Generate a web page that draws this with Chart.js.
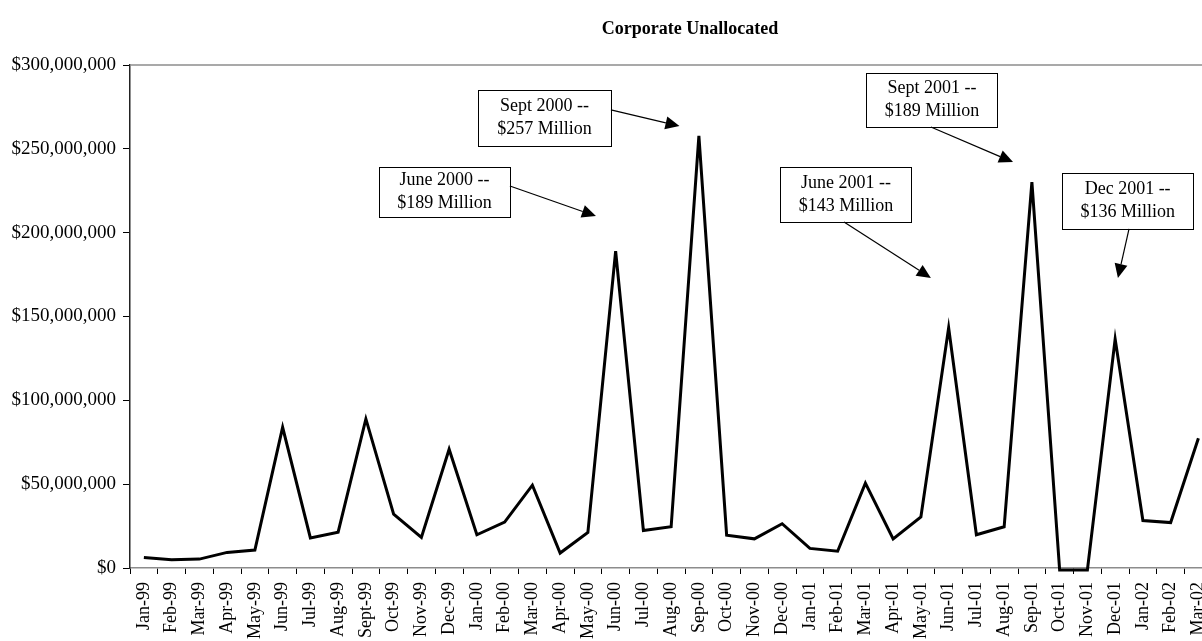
<!DOCTYPE html>
<html lang="en">
<head>
    <meta charset="UTF-8">
    <title>Corporate Unallocated</title>
    <script src="https://cdn.jsdelivr.net/npm/chart.js"></script>
    <style>
        body { margin: 0; background: #fff; }
        #wrap { width: 1202px; height: 641px; overflow: hidden; }
    </style>
</head>
<body>
    <div id="wrap">
        <canvas id="unallocChart" width="1228" height="641"></canvas>
    </div>
    <script>
        // months shown on the axis (labels exactly as in the original)
        const months = [
            'Jan-99', 'Feb-99', 'Mar-99', 'Apr-99', 'May-99', 'Jun-99', 'Jul-99', 'Aug-99', 'Sept-99', 'Oct-99', 'Nov-99', 'Dec-99',
            'Jan-00', 'Feb-00', 'Mar-00', 'Apr-00', 'May-00', 'Jun-00', 'Jul-00', 'Aug-00', 'Sep-00', 'Oct-00', 'Nov-00', 'Dec-00',
            'Jan-01', 'Feb-01', 'Mar-01', 'Apr-01', 'May-01', 'Jun-01', 'Jul-01', 'Aug-01', 'Sep-01', 'Oct-01', 'Nov-01', 'Dec-01',
            'Jan-02', 'Feb-02', 'Mar-02'
        ];

        // values in millions of dollars
        const unallocatedMillions = [
            6.3, 4.9, 5.3, 9.3, 10.7, 83.9, 17.9, 21.4, 88.9, 32.1, 18.2, 70.8,
            19.8, 27.4, 49.4, 8.9, 21.2, 189.0, 22.4, 24.6, 257.7, 19.6, 17.4, 26.4,
            11.7, 10.0, 50.6, 17.3, 30.4, 143.2, 19.8, 24.6, 230.1, -1.2, -1.2, 136.5,
            28.3, 27.1, 77.4
        ];

        const yMin = 0;
        const yMax = 300000000;
        const yStep = 50000000;

        // callout boxes: text lines, box centre and arrow ends in data units (category index, $M)
        const callouts = [
            { lines: ['June 2000 --', '$189 Million'], at: [10.83, 224.3], w: 131, h: 50, from: [13.19, 227.8], to: [16.29, 209.9] },
            { lines: ['Sept 2000 --', '$257 Million'], at: [14.44, 268.4], w: 133, h: 56, from: [16.83, 273.2], to: [19.30, 263.6] },
            { lines: ['June 2001 --', '$143 Million'], at: [25.30, 222.8], w: 131, h: 55, from: [25.23, 206.4], to: [28.36, 173.0] },
            { lines: ['Sept 2001 --', '$189 Million'], at: [28.40, 279.1], w: 131, h: 54, from: [28.36, 263.0], to: [31.32, 242.1] },
            { lines: ['Dec 2001 --', '$136 Million'], at: [35.45, 218.9], w: 131, h: 56, from: [35.50, 202.2], to: [35.10, 173.0] }
        ];

        const serif = '"Liberation Serif", "Times New Roman", serif';

        const calloutPlugin = {
            id: 'callouts',
            afterDatasetsDraw(chart) {
                const { ctx, chartArea, scales } = chart;
                const px = i => scales.x.getPixelForValue(i);
                const py = m => scales.y.getPixelForValue(m * 1e6);

                ctx.save();
                // grey top edge of the plot area
                ctx.strokeStyle = '#8c8c8c';
                ctx.lineWidth = 1.5;
                ctx.beginPath();
                ctx.moveTo(chartArea.left, chartArea.top);
                ctx.lineTo(chartArea.right, chartArea.top);
                ctx.stroke();

                // title
                ctx.fillStyle = '#000';
                ctx.font = 'bold 18px ' + serif;
                ctx.textAlign = 'center';
                ctx.textBaseline = 'middle';
                ctx.fillText('Corporate Unallocated', 690, 29);

                callouts.forEach(c => {
                    const cx = px(c.at[0]);
                    const cy = py(c.at[1]);
                    const left = Math.round(cx - c.w / 2) + 0.5;
                    const top = Math.round(cy - c.h / 2) + 0.5;

                    ctx.fillStyle = '#fff';
                    ctx.fillRect(left, top, c.w, c.h);
                    ctx.strokeStyle = '#000';
                    ctx.lineWidth = 1;
                    ctx.strokeRect(left, top, c.w, c.h);

                    ctx.fillStyle = '#000';
                    ctx.font = '18px ' + serif;
                    ctx.fillText(c.lines[0], cx, cy - 11.5);
                    ctx.fillText(c.lines[1], cx, cy + 11.5);

                    // arrow
                    const x1 = px(c.from[0]), y1 = py(c.from[1]);
                    const x2 = px(c.to[0]), y2 = py(c.to[1]);
                    const ang = Math.atan2(y2 - y1, x2 - x1);
                    const headLen = 14, headW = 6.5;
                    const bx = x2 - headLen * Math.cos(ang);
                    const by = y2 - headLen * Math.sin(ang);
                    ctx.beginPath();
                    ctx.moveTo(x1, y1);
                    ctx.lineTo(bx, by);
                    ctx.lineWidth = 1.2;
                    ctx.stroke();
                    ctx.beginPath();
                    ctx.moveTo(x2, y2);
                    ctx.lineTo(bx + headW * Math.sin(ang), by - headW * Math.cos(ang));
                    ctx.lineTo(bx - headW * Math.sin(ang), by + headW * Math.cos(ang));
                    ctx.closePath();
                    ctx.fill();
                });
                ctx.restore();
            }
        };

        const ctx = document.getElementById('unallocChart').getContext('2d');
        new Chart(ctx, {
            type: 'line',
            data: {
                labels: months,
                datasets: [{
                    label: 'Corporate Unallocated',
                    data: unallocatedMillions.map(v => v * 1e6),
                    borderColor: '#000',
                    borderWidth: 3,
                    pointRadius: 0,
                    tension: 0,
                    fill: false,
                    clip: false
                }]
            },
            options: {
                responsive: false,
                animation: false,
                devicePixelRatio: 1,
                layout: { padding: { top: 65, right: 0, bottom: 0, left: 0 } },
                plugins: {
                    legend: { display: false },
                    tooltip: { enabled: false },
                    title: { display: false }
                },
                scales: {
                    x: {
                        offset: true,
                        grid: {
                            offset: true,
                            drawOnChartArea: false,
                            tickLength: 6,
                            tickColor: '#000'
                        },
                        border: { color: '#8c8c8c', width: 1.5 },
                        ticks: {
                            autoSkip: false,
                            maxRotation: 90,
                            minRotation: 90,
                            padding: 8,
                            color: '#000',
                            font: { family: serif, size: 18 }
                        },
                        afterFit: s => { s.height = 73; }
                    },
                    y: {
                        min: yMin,
                        max: yMax,
                        grid: {
                            drawOnChartArea: false,
                            tickLength: 7,
                            tickColor: '#000'
                        },
                        border: { color: '#222', width: 1.5 },
                        ticks: {
                            stepSize: yStep,
                            padding: 7,
                            color: '#000',
                            font: { family: serif, size: 19 },
                            callback: v => '$' + v.toLocaleString('en-US')
                        },
                        afterFit: s => { s.width = 130; }
                    }
                }
            },
            plugins: [calloutPlugin]
        });
    </script>
</body>
</html>
